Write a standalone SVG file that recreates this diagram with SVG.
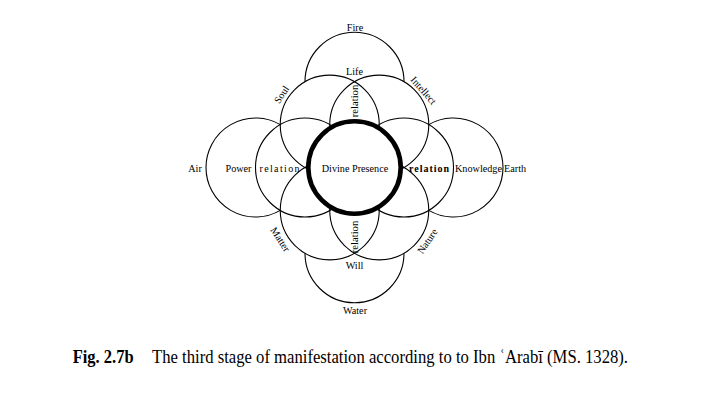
<svg xmlns="http://www.w3.org/2000/svg" width="702" height="417" viewBox="0 0 702 417">
  <style>
    .ln { fill: none; stroke: #000; stroke-width: 1.1; }
    .core { fill: #fff; stroke: #000; stroke-width: 4.6; }
    .lb { font-family: "Liberation Serif", "Times New Roman", serif; font-size: 10.2px; fill: #000; }
    .mid { text-anchor: middle; }
    .relv { font-family: "Liberation Serif", "Times New Roman", serif; font-size: 10.6px; fill: #000; text-anchor: middle; }
    .relh { font-family: "Liberation Serif", "Times New Roman", serif; font-size: 10px; fill: #000; letter-spacing: 1.35px; }
    .relhb { font-family: "Liberation Serif", "Times New Roman", serif; font-size: 10px; font-weight: bold; fill: #000; letter-spacing: 1px; }
    .cap { font-family: "Liberation Serif", "Times New Roman", serif; font-size: 18px; fill: #000; }
  </style>
  <rect x="0" y="0" width="702" height="417" fill="#fff"/>

  <g id="fire">
    <path class="ln" d="M 305,81.76 A 49.5 49.5 0 0 1 404,81.76"/>
    <text class="lb mid" x="355" y="30.5">Fire</text>
  </g>
  <g id="water">
    <path class="ln" d="M 305,253.24 A 49.5 49.5 0 0 0 404,253.24"/>
    <text class="lb mid" x="355" y="313.5">Water</text>
  </g>
  <g id="air">
    <path class="ln" d="M 280.25,124.63 A 49.5 49.5 0 1 0 280.25,210.37"/>
    <text class="lb mid" x="195" y="171.5">Air</text>
  </g>
  <g id="earth">
    <path class="ln" d="M 428.75,124.63 A 49.5 49.5 0 1 1 428.75,210.37"/>
    <text class="lb" x="504" y="171.5">Earth</text>
  </g>

  <g id="soul">
    <circle class="ln" cx="329.75" cy="124.63" r="49.5"/>
    <text class="lb mid" transform="translate(284.4,96.5) rotate(-56)">Soul</text>
  </g>
  <g id="intellect">
    <circle class="ln" cx="379.25" cy="124.63" r="49.5"/>
    <text class="lb mid" transform="translate(421,92.7) rotate(49)">Intellect</text>
  </g>
  <g id="matter">
    <circle class="ln" cx="329.75" cy="210.37" r="49.5"/>
    <text class="lb mid" transform="translate(277.5,241.3) rotate(57)">Matter</text>
  </g>
  <g id="nature">
    <circle class="ln" cx="379.25" cy="210.37" r="49.5"/>
    <text class="lb mid" transform="translate(430.2,243.1) rotate(-56)">Nature</text>
  </g>
  <g id="power">
    <circle class="ln" cx="305" cy="167.5" r="49.5"/>
    <text class="lb mid" x="238.5" y="171.5">Power</text>
  </g>
  <g id="knowledge">
    <circle class="ln" cx="404" cy="167.5" r="49.5"/>
    <text class="lb" x="455" y="171.5">Knowledge</text>
  </g>

  <g id="divine-presence">
    <circle class="core" cx="354.5" cy="167.5" r="46.2"/>
    <text class="lb mid" x="355" y="171.5">Divine Presence</text>
  </g>

  <g id="life">
    <text class="lb mid" x="354.5" y="75">Life</text>
  </g>
  <g id="will">
    <text class="lb mid" x="354.5" y="269">Will</text>
  </g>

  <g id="relations">
    <text class="relv" transform="translate(357.5,101) rotate(-90)">relation</text>
    <text class="relv" transform="translate(358,237) rotate(-90)">relation</text>
    <text class="relh" x="259.5" y="171.5">relation</text>
    <text class="relhb" x="409" y="171.5">relation</text>
  </g>

  <g id="connectors"></g>

  <g id="caption">
    <text class="cap" x="72.7" y="363.3" font-weight="bold" textLength="61" lengthAdjust="spacingAndGlyphs">Fig. 2.7b</text>
    <text class="cap" x="152" y="363.3" textLength="476" lengthAdjust="spacingAndGlyphs">The third stage of manifestation according to to Ibn ʿArabī (MS. 1328).</text>
  </g>
</svg>
